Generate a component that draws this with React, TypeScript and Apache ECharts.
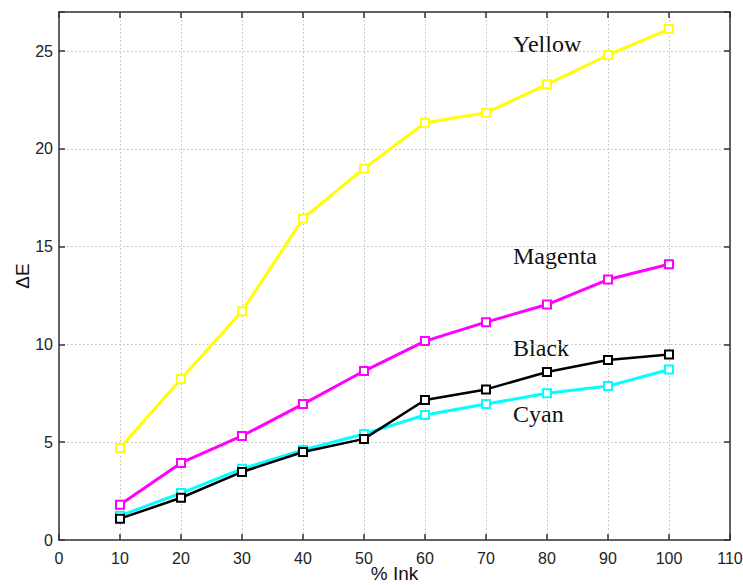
import React, { useEffect, useRef } from "react";
import * as echarts from "echarts";

const inkPercent = [10, 20, 30, 40, 50, 60, 70, 80, 90, 100];
const yellowDE = [4.71, 8.23, 11.7, 16.44, 19.0, 21.34, 21.85, 23.3, 24.8, 26.13];
const magentaDE = [1.8, 3.94, 5.32, 6.95, 8.64, 10.17, 11.14, 12.04, 13.32, 14.1];
const cyanDE = [1.24, 2.4, 3.64, 4.6, 5.42, 6.39, 6.95, 7.5, 7.87, 8.72];
const blackDE = [1.09, 2.16, 3.48, 4.5, 5.17, 7.16, 7.7, 8.59, 9.2, 9.49];

const seriesDefs = [
  { name: "Yellow", color: "#ffff00", data: yellowDE, width: 3 },
  { name: "Magenta", color: "#ff00ff", data: magentaDE, width: 3 },
  { name: "Cyan", color: "#00ffff", data: cyanDE, width: 3 },
  { name: "Black", color: "#000000", data: blackDE, width: 2.5 },
];

const labelDefs = [
  { text: "Yellow", baseline: 51.7 },
  { text: "Magenta", baseline: 263.5 },
  { text: "Black", baseline: 356 },
  { text: "Cyan", baseline: 422 },
];

export default function App() {
  const ref = useRef<HTMLDivElement>(null);
  useEffect(() => {
    document.body.style.margin = "0";
    const chart = echarts.init(ref.current!, null, { renderer: "svg" });
    const tickFont = { fontFamily: "Liberation Sans", fontSize: 16, color: "#222" };
    const axisLineStyle = { color: "#333", width: 1.5 };
    const splitLine = { show: true, lineStyle: { color: "#bdbdbd", type: [1.5, 2.5] as any, width: 1 } };
    chart.setOption({
      animation: false,
      backgroundColor: "#fff",
      grid: { left: 59, top: 12, right: 13, bottom: 45, containLabel: false, outerBoundsMode: "none" },
      xAxis: [
        {
          type: "value",
          min: 0,
          max: 110,
          interval: 10,
          name: "% Ink",
          nameLocation: "middle",
          nameGap: 24,
          nameMoveOverlap: false,
          nameTextStyle: { fontFamily: "Liberation Sans", fontSize: 19, color: "#111" },
          axisLine: { show: true, onZero: false, lineStyle: axisLineStyle },
          axisTick: { show: true, inside: true, length: 6, lineStyle: axisLineStyle },
          axisLabel: { ...tickFont, margin: 10 },
          splitLine,
        },
        {
          type: "value",
          position: "top",
          min: 0,
          max: 110,
          interval: 10,
          axisLine: { show: true, onZero: false, lineStyle: axisLineStyle },
          axisTick: { show: true, inside: true, length: 6, lineStyle: axisLineStyle },
          axisLabel: { show: false },
          splitLine: { show: false },
        },
      ],
      yAxis: [
        {
          type: "value",
          min: 0,
          max: 27,
          interval: 5,
          name: "ΔE",
          nameLocation: "middle",
          nameGap: 27,
          nameMoveOverlap: false,
          nameRotate: 90,
          nameTextStyle: { fontFamily: "Liberation Sans", fontSize: 19, color: "#111" },
          axisLine: { show: true, onZero: false, lineStyle: axisLineStyle },
          axisTick: { show: true, inside: true, length: 6, lineStyle: axisLineStyle },
          axisLabel: {
            ...tickFont,
            margin: 6,
            formatter: (v: number) => (v % 5 === 0 ? String(v) : ""),
          },
          splitLine,
        },
        {
          type: "value",
          position: "right",
          min: 0,
          max: 27,
          interval: 5,
          axisLine: { show: true, onZero: false, lineStyle: axisLineStyle },
          axisTick: { show: true, inside: true, length: 6, lineStyle: axisLineStyle },
          axisLabel: { show: false },
          splitLine: { show: false },
        },
      ],
      series: seriesDefs.map((s) => ({
        name: s.name,
        type: "line",
        data: inkPercent.map((x, i) => [x, s.data[i]]),
        symbol: "rect",
        symbolSize: 8,
        showAllSymbol: true,
        lineStyle: { color: s.color, width: s.width },
        itemStyle: { color: "#fff", borderColor: s.color, borderWidth: 2 },
      })),
      graphic: labelDefs.map((l) => ({
        type: "text",
        x: 513,
        y: l.baseline + 4,
        style: {
          text: l.text,
          font: "24px 'Liberation Serif'",
          fill: "#111",
          verticalAlign: "bottom",
        },
      })),
    });
    return () => chart.dispose();
  }, []);
  return <div ref={ref} style={{ width: 743, height: 585 }} />;
}
